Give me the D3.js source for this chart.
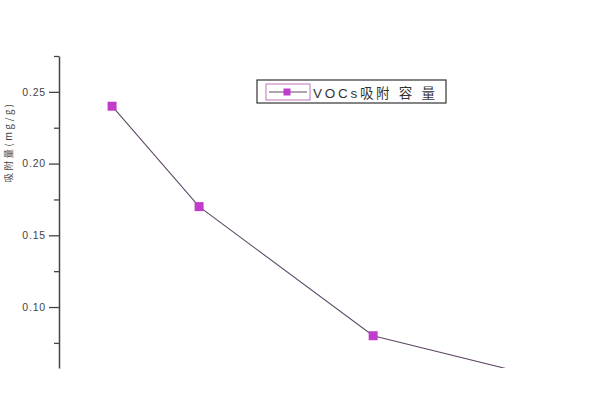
<!DOCTYPE html>
<html><head><meta charset="utf-8">
<script src="https://cdn.jsdelivr.net/npm/d3@7"></script>
<style>body{margin:0;background:#fff}svg{display:block}</style>
</head><body>
<svg id="c" width="600" height="400"></svg>
<script>
const xValues = [1, 2, 4, 6];
const capacity = [0.24, 0.17, 0.08, 0.05];
const majorTicks = [0.10, 0.15, 0.20, 0.25];
const minorTicks = [0.075, 0.125, 0.175, 0.225, 0.275];
const seriesName = "VOCs吸附 容 量";
const yTitle = "吸附量(mg/g)";

const svg = d3.select("#c");
const x = d3.scaleLinear().domain([0.39, 6.4]).range([59, 582]);
const y = d3.scaleLinear().domain([0.0575, 0.275]).range([368, 56]);

svg.append("defs").append("clipPath").attr("id","clip")
  .append("rect").attr("x",0).attr("y",0).attr("width",600).attr("height",368);
svg.select("defs").append("filter").attr("id","blur")
  .append("feGaussianBlur").attr("stdDeviation",0.6);

// y title
svg.append("text").attr("transform","translate(12,142) rotate(-90)")
  .attr("text-anchor","middle").attr("font-family","Noto Sans CJK SC, sans-serif")
  .attr("font-size",9.5).attr("fill","#444").attr("letter-spacing",2.5).text(yTitle);

// axis
const axis = d3.axisLeft(y).tickValues(majorTicks).tickSize(10).tickSizeOuter(0)
  .tickPadding(3).tickFormat(d3.format(".2f"));
const ga = svg.append("g").attr("transform","translate(59,0)").call(axis);
ga.select(".domain").attr("stroke","#444").attr("stroke-width",1.5);
ga.selectAll(".tick line").attr("stroke","#444").attr("stroke-width",1.3);
ga.selectAll(".tick text").attr("font-family","Liberation Sans, Arial, sans-serif")
  .attr("font-size",10.5).attr("fill","#444").attr("letter-spacing",0.8);
const minorAxis = d3.axisLeft(y).tickValues(minorTicks).tickSize(5).tickSizeOuter(0).tickFormat("");
const gm = svg.append("g").attr("transform","translate(59,0)").call(minorAxis);
gm.select(".domain").remove();
gm.selectAll(".tick line").attr("stroke","#444").attr("stroke-width",1.3);

// series
const data = xValues.map((v,i)=>({x:v,y:capacity[i]}));
const plot = svg.append("g").attr("clip-path","url(#clip)");
plot.append("path").datum(data)
  .attr("d", d3.line().x(d=>x(d.x)).y(d=>y(d.y)))
  .attr("fill","none").attr("stroke","#5f4a66").attr("stroke-width",1.1);
plot.selectAll("rect.m").data(data).join("rect").attr("class","m")
  .attr("x",d=>x(d.x)-4.5).attr("y",d=>y(d.y)-4.5).attr("width",9).attr("height",9)
  .attr("fill","#c03ccc").attr("filter","url(#blur)");

// legend
const lg = svg.append("g");
lg.append("rect").attr("x",257).attr("y",80).attr("width",189).attr("height",23)
  .attr("fill","#fff").attr("stroke","#333").attr("stroke-width",1.2);
lg.append("rect").attr("x",266).attr("y",84).attr("width",44).attr("height",16)
  .attr("fill","#fff").attr("stroke","#c88ac8").attr("stroke-width",1.2);
lg.append("line").attr("x1",269).attr("x2",307).attr("y1",92).attr("y2",92)
  .attr("stroke","#5f4a66").attr("stroke-width",1.1);
lg.append("rect").attr("x",283.5).attr("y",88.5).attr("width",7).attr("height",7)
  .attr("fill","#c03ccc").attr("filter","url(#blur)");
lg.append("text").attr("x",313).attr("y",97.5)
  .attr("font-family","Liberation Sans, Noto Sans CJK SC, sans-serif")
  .attr("font-size",13.5).attr("fill","#333")
  .attr("textLength",122).attr("lengthAdjust","spacing").text(seriesName);
</script>
</body></html>
